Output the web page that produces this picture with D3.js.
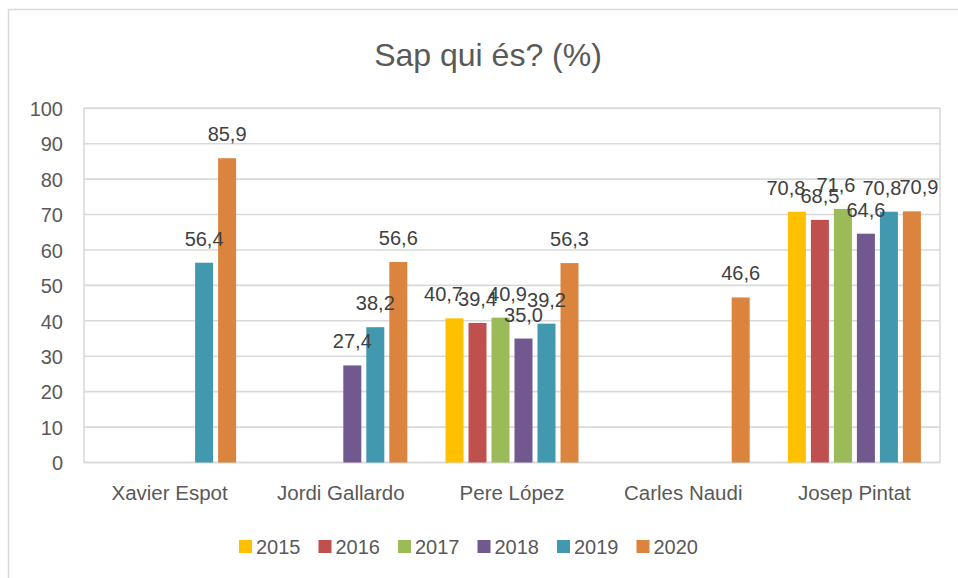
<!DOCTYPE html>
<html>
<head>
<meta charset="utf-8">
<script src="https://cdn.jsdelivr.net/npm/d3@7"></script>
<style>
    html, body { margin: 0; padding: 0; background: #fff; }
    svg { display: block; font-family: "Liberation Sans", Arial, sans-serif; }
</style>
</head>
<body>
<div id="chart"></div>
<script>
// categories and series
var candidates = ["Xavier Espot", "Jordi Gallardo", "Pere López", "Carles Naudi", "Josep Pintat"];
var years = ["2015", "2016", "2017", "2018", "2019", "2020"];
var yearColors = ["#FFC000", "#C0504D", "#9BBB59", "#71588F", "#4198AF", "#DB843D"];
var yTicks = [0, 10, 20, 30, 40, 50, 60, 70, 80, 90, 100];

// per year: one value per candidate (null = no bar)
var v2015 = [null, null, 40.7, null, 70.8];
var v2016 = [null, null, 39.4, null, 68.5];
var v2017 = [null, null, 40.9, null, 71.6];
var v2018 = [null, 27.4, 35.0, null, 64.6];
var v2019 = [56.4, 38.2, 39.2, null, 70.8];
var v2020 = [85.9, 56.6, 56.3, 46.6, 70.9];
var seriesValues = [v2015, v2016, v2017, v2018, v2019, v2020];

// small sideways nudges Excel applied to overlapping labels
var labelNudge = {
    "Pere López|2015": -11,
    "Pere López|2017": 7,
    "Josep Pintat|2015": -11,
    "Josep Pintat|2017": -7,
    "Josep Pintat|2019": -7,
    "Josep Pintat|2020": 7
};

var width = 958, height = 578;
var plot = {left: 84, right: 940, top: 108.3, bottom: 462.5};

var svg = d3.select("#chart").append("svg")
    .attr("width", width)
    .attr("height", height);

// outer chart border (only left/top visible)
svg.append("rect")
    .attr("x", 8.5).attr("y", 9.5)
    .attr("width", 1000).attr("height", 700)
    .attr("fill", "none")
    .attr("stroke", "#d9d9d9")
    .attr("stroke-width", 1.5);

// title
svg.append("text")
    .attr("x", 488).attr("y", 66)
    .attr("text-anchor", "middle")
    .attr("font-size", 32)
    .attr("fill", "#595959")
    .text("Sap qui és? (%)");

var x0 = d3.scaleBand()
    .domain(candidates)
    .range([plot.left, plot.right]);

var groupWidth = 138;
var x1 = d3.scaleBand()
    .domain(years)
    .range([0, groupWidth])
    .paddingInner(5 / 23)
    .paddingOuter(2.5 / 23);

var y = d3.scaleLinear()
    .domain([0, 100])
    .range([plot.bottom, plot.top]);

// gridlines
svg.append("g")
    .selectAll("line")
    .data(yTicks)
    .enter()
    .append("line")
    .attr("x1", plot.left)
    .attr("x2", plot.right)
    .attr("y1", function (d) { return y(d); })
    .attr("y2", function (d) { return y(d); })
    .attr("stroke", "#d9d9d9")
    .attr("stroke-width", 1.6);

// plot area sides
svg.append("rect")
    .attr("x", plot.left).attr("y", plot.top)
    .attr("width", plot.right - plot.left)
    .attr("height", plot.bottom - plot.top)
    .attr("fill", "none")
    .attr("stroke", "#d9d9d9")
    .attr("stroke-width", 1.6);

// y axis labels
var yAxis = d3.axisLeft(y).tickValues(yTicks).tickSize(0).tickPadding(0);
var gy = svg.append("g")
    .attr("transform", "translate(63,0)")
    .call(yAxis);
gy.select(".domain").remove();
gy.selectAll("text")
    .attr("font-size", 20)
    .attr("font-family", "Liberation Sans, Arial, sans-serif")
    .attr("fill", "#595959")
    .attr("dy", "0.36em");

// x axis labels
var xAxis = d3.axisBottom(x0).tickSize(0).tickPadding(0);
var gx = svg.append("g")
    .attr("transform", "translate(0,500)")
    .call(xAxis);
gx.select(".domain").remove();
gx.selectAll("text")
    .attr("font-size", 20.5)
    .attr("font-family", "Liberation Sans, Arial, sans-serif")
    .attr("fill", "#595959")
    .attr("dy", 0);

// flatten into bar records
var bars = [];
for (var s = 0; s < years.length; s++) {
    for (var c = 0; c < candidates.length; c++) {
        if (seriesValues[s][c] != null) {
            bars.push({name: candidates[c], year: years[s], color: yearColors[s], value: seriesValues[s][c]});
        }
    }
}

function barX(d) {
    return x0(d.name) + x0.bandwidth() / 2 - groupWidth / 2 + x1(d.year);
}

var g = svg.append("g").attr("id", "bars");
g.selectAll("rect")
    .data(bars)
    .enter()
    .append("rect")
    .attr("x", barX)
    .attr("y", function (d) { return y(d.value); })
    .attr("width", x1.bandwidth())
    .attr("height", function (d) { return y(0) - y(d.value); })
    .attr("fill", function (d) { return d.color; });

var fmt = function (v) { return d3.format(".1f")(v).replace(".", ","); };

g.selectAll("text")
    .data(bars)
    .enter()
    .append("text")
    .attr("x", function (d) {
        return barX(d) + x1.bandwidth() / 2 + (labelNudge[d.name + "|" + d.year] || 0);
    })
    .attr("y", function (d) { return y(d.value) - 17; })
    .attr("text-anchor", "middle")
    .attr("font-size", 20)
    .attr("fill", "#404040")
    .text(function (d) { return fmt(d.value); });

// legend
var legendStep = 79.5;
var legendLeft = 239;
var lg = svg.append("g").attr("id", "legend");
var item = lg.selectAll("g")
    .data(years)
    .enter()
    .append("g")
    .attr("transform", function (d, i) { return "translate(" + (legendLeft + i * legendStep) + ",540)"; });
item.append("rect")
    .attr("width", 13)
    .attr("height", 13)
    .attr("fill", function (d, i) { return yearColors[i]; });
item.append("text")
    .attr("x", 17)
    .attr("y", 14)
    .attr("font-size", 20)
    .attr("fill", "#595959")
    .text(function (d) { return d; });
</script>
</body>
</html>
